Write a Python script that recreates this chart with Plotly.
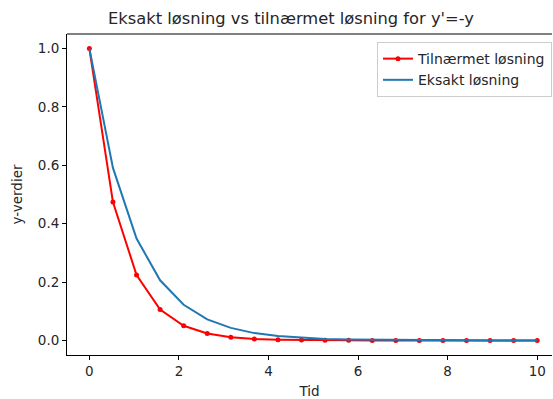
import plotly.graph_objects as go

tid = [0.0, 0.526, 1.053, 1.579, 2.105, 2.632, 3.158, 3.684, 4.211, 4.737,
       5.263, 5.789, 6.316, 6.842, 7.368, 7.895, 8.421, 8.947, 9.474, 10.0]
tilnaermet = [1.0, 0.474, 0.224, 0.106, 0.050, 0.024, 0.011, 0.005, 0.0025, 0.0012,
              0.0006, 0.0003, 0.0001, 0.0001, 0.0, 0.0, 0.0, 0.0, 0.0, 0.0]
eksakt = [1.0, 0.591, 0.349, 0.206, 0.122, 0.072, 0.043, 0.025, 0.015, 0.009,
          0.005, 0.003, 0.002, 0.001, 0.0006, 0.0004, 0.0002, 0.0001, 0.0001, 0.0]
x_ticks = [0, 2, 4, 6, 8, 10]
y_ticks = [0.0, 0.2, 0.4, 0.6, 0.8, 1.0]

font = "DejaVu Sans"
fs = 13.5
fig = go.Figure()
fig.add_trace(go.Scatter(x=tid, y=tilnaermet, mode="lines+markers", name="Tilnærmet løsning",
                         line=dict(color="#ff0000", width=2),
                         marker=dict(color="#ff0000", size=5)))
fig.add_trace(go.Scatter(x=tid, y=eksakt, mode="lines", name="Eksakt løsning",
                         line=dict(color="#1f77b4", width=2)))

axis_common = dict(showline=True, linecolor="black", linewidth=1, ticks="outside",
                   ticklen=4, tickcolor="black", showgrid=False, zeroline=False,
                   tickfont=dict(family=font, size=fs, color="#262626"))
fig.update_layout(
    width=553, height=399,
    margin=dict(l=67, r=1, t=34, b=44),
    paper_bgcolor="white", plot_bgcolor="white",
    title=dict(text="Eksakt løsning vs tilnærmet løsning for y'=-y",
               x=291 / 553, xanchor="center", y=1 - 18 / 399, yanchor="middle",
               font=dict(family=font, size=16.3, color="#262626")),
    xaxis=dict(range=[-0.5, 10.33], tickvals=x_ticks, ticktext=[str(v) for v in x_ticks],
               title=dict(text="Tid", font=dict(family=font, size=fs, color="#262626"), standoff=9),
               **axis_common),
    yaxis=dict(range=[-0.05, 1.05], tickvals=y_ticks, ticktext=[f"{v:.1f}" for v in y_ticks],
               title=dict(text="y-verdier", font=dict(family=font, size=fs, color="#262626"), standoff=12),
               **axis_common),
    legend=dict(x=1.0, xanchor="right", y=0.975, yanchor="top",
                bgcolor="rgba(255,255,255,0.8)", bordercolor="#cccccc", borderwidth=1,
                font=dict(family=font, size=14, color="#262626")),
    showlegend=True,
)
fig.add_shape(type="line", xref="paper", yref="paper", x0=0, x1=1, y0=1, y1=1,
              line=dict(color="black", width=1))
fig.write_html("out.html")
